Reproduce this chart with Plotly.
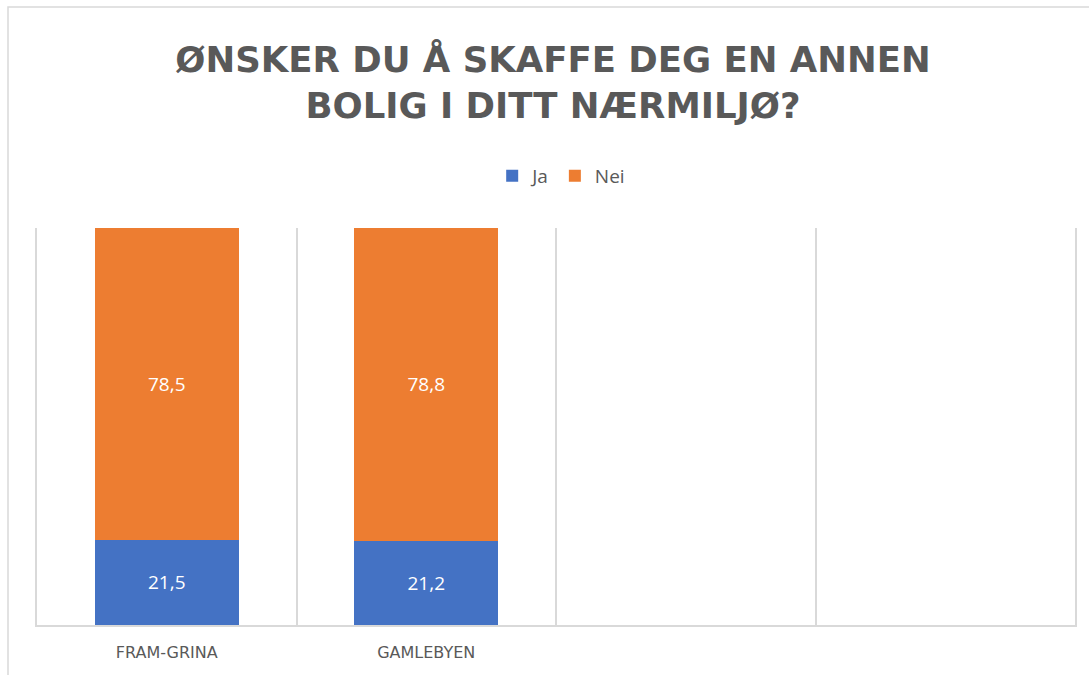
import plotly.graph_objects as go

categories = [0, 1, 2, 3]
category_labels = ["FRAM-GRINA", "GAMLEBYEN"]
ja_values = [21.5, 21.2, None, None]
nei_values = [78.5, 78.8, None, None]

title_text = "ØNSKER DU Å SKAFFE DEG EN ANNEN<br>BOLIG I DITT NÆRMILJØ?"

fig = go.Figure()
fig.add_trace(go.Bar(
    name="Ja", x=categories, y=ja_values, marker=dict(color="#4472C4", line=dict(width=0)),
    texttemplate="%{y:.1f}", textposition="inside", insidetextanchor="middle",
    textfont=dict(color="white", size=19, family="Open Sans"),
))
fig.add_trace(go.Bar(
    name="Nei", x=categories, y=nei_values, marker=dict(color="#ED7D31", line=dict(width=0)),
    texttemplate="%{y:.1f}", textposition="inside", insidetextanchor="middle",
    textfont=dict(color="white", size=19, family="Open Sans"),
))

fig.update_layout(
    barmode="stack",
    bargap=0.445,
    separators=",.",
    width=1089, height=675,
    margin=dict(l=37, r=14, t=228, b=50),
    paper_bgcolor="white", plot_bgcolor="white",
    font=dict(family="Open Sans", color="#595959"),
    title=dict(text=title_text, x=553/1089, xref="container", xanchor="center",
               y=1 - 72/675, yref="container", yanchor="top",
               font=dict(family="DejaVu Sans", size=35.5, color="#595959", weight="bold")),
    legend=dict(orientation="h", x=0.505, xanchor="center", y=1.131, yanchor="middle",
                font=dict(size=19, color="#595959", family="Open Sans"),
                itemwidth=30, traceorder="normal"),
    showlegend=True,
    uniformtext=dict(mode=False),
)
fig.update_xaxes(
    range=[-0.5, 3.5], tickvals=[0, 1], ticktext=category_labels,
    showgrid=False, zeroline=False, showline=True, linecolor="#D9D9D9", linewidth=1.5,
    ticks="", tickfont=dict(size=16, color="#595959", family="DejaVu Sans"),
    ticklabelstandoff=12,
    minor=dict(tick0=-0.5, dtick=1, showgrid=True, gridcolor="#D9D9D9", gridwidth=1.5),
)
fig.update_yaxes(range=[0, 100], showticklabels=False, ticks="", showgrid=False,
                 zeroline=False, showline=True, mirror=True, linecolor="#D9D9D9", linewidth=1.5)

# outer chart border (decoration)
fig.add_shape(type="rect", xref="paper", yref="paper",
              x0=(8 - 37) / 1038, x1=1.06, y0=-0.2, y1=(625 - 7) / 397,
              line=dict(color="#D9D9D9", width=1.5), fillcolor="rgba(0,0,0,0)", layer="below")

fig.write_html("out.html", config={"displayModeBar": False},
               post_script="document.body.style.margin='0';")
